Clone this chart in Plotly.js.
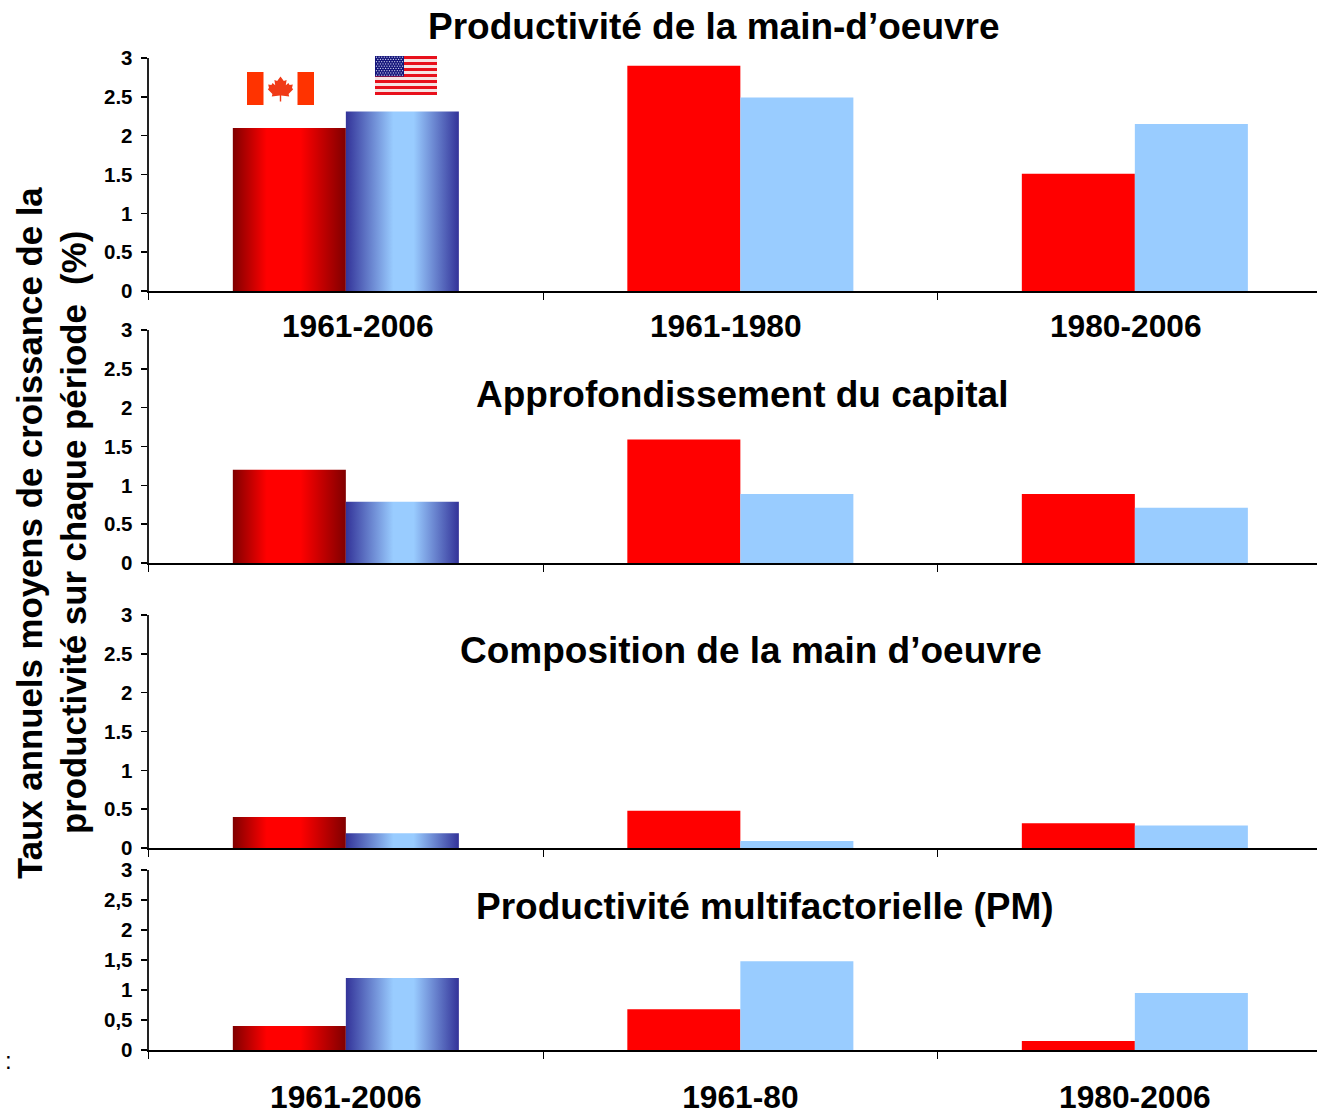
<!DOCTYPE html>
<html>
<head>
<meta charset="utf-8">
<script src="https://cdn.plot.ly/plotly-3.0.1.min.js"></script>
<style>html,body{margin:0;padding:0;background:#fff}#chart{width:1317px;height:1115px}</style>
</head>
<body>
<div id="chart"></div>
<script>
// ---- data ----
const periods = ["1961-2006", "1961-1980", "1980-2006"];
const periodsBottom = ["1961-2006", "1961-80", "1980-2006"];
const canadaLabour = [2.10, 2.90, 1.51];
const usLabour = [2.31, 2.49, 2.15];
const canadaCapital = [1.20, 1.59, 0.89];
const usCapital = [0.79, 0.89, 0.71];
const canadaComposition = [0.40, 0.48, 0.32];
const usComposition = [0.19, 0.09, 0.29];
const canadaMfp = [0.40, 0.68, 0.15];
const usMfp = [1.20, 1.48, 0.95];
const yTickVals = [0, 0.5, 1, 1.5, 2, 2.5, 3];
const yTicksDot = ["0", "0.5", "1", "1.5", "2", "2.5", "3"];
const yTicksComma = ["0", "0,5", "1", "1,5", "2", "2,5", "3"];
const titles = ["Productivité de la main-d’oeuvre", "Approfondissement du capital",
                "Composition de la main d’oeuvre", "Productivité multifactorielle (PM)"];
const yTitleLines = ["Taux annuels moyens de croissance de la", "productivité sur chaque période  (%)"];

// ---- layout helpers ----
const W = 1317, H = 1115, LEFT = 148.6, CAT = 394.5;
const FONT = '"Liberation Sans", Arial, sans-serif';
const px = v => v / W, py = v => 1 - v / H;
const panels = [
  {top: 58, bottom: 291, can: canadaLabour, us: usLabour, ticks: yTicksDot, cats: periods},
  {top: 330, bottom: 563, can: canadaCapital, us: usCapital, ticks: yTicksDot, cats: periods},
  {top: 615, bottom: 848, can: canadaComposition, us: usComposition, ticks: yTicksDot, cats: periods},
  {top: 870, bottom: 1050, can: canadaMfp, us: usMfp, ticks: yTicksComma, cats: periodsBottom}
];
const data = [];
const layout = {
  width: W, height: H, autosize: false,
  margin: {l: 0, r: 0, t: 0, b: 0},
  paper_bgcolor: "#fff", plot_bgcolor: "rgba(0,0,0,0)",
  barmode: "group", bargap: 0.427, bargroupgap: 0,
  showlegend: false, annotations: [], images: []
};
panels.forEach((p, i) => {
  const n = i === 0 ? "" : String(i + 1);
  data.push({type: "bar", name: "Canada", x: p.cats, y: p.can, xaxis: "x" + n, yaxis: "y" + n,
             marker: {color: "#ff0000", line: {width: 0}}});
  data.push({type: "bar", name: "États-Unis", x: p.cats, y: p.us, xaxis: "x" + n, yaxis: "y" + n,
             marker: {color: "#99ccff", line: {width: 0}}});
  layout["xaxis" + n] = {
    domain: [px(LEFT), 1], anchor: "y" + n, type: "category",
    range: [-0.5, -0.5 + (W - LEFT) / CAT], fixedrange: true,
    showgrid: false, zeroline: false, showline: true, linecolor: "#000", linewidth: 2,
    ticks: "outside", tickson: "boundaries", ticklen: 7, tickwidth: 1, tickcolor: "#000",
    showticklabels: i === 3, ticklabelstandoff: 18, ticklabelshift: 1.5,
    tickfont: {family: FONT, size: 31.7, color: "#000", weight: 700}
  };
  layout["yaxis" + n] = {
    domain: [py(p.bottom), py(p.top)], anchor: "x" + n, range: [0, 3], fixedrange: true,
    tickmode: "array", tickvals: yTickVals, ticktext: p.ticks,
    showgrid: false, zeroline: false, showline: true, linecolor: "#222", linewidth: 2,
    ticks: "outside", ticklen: 6, tickwidth: 1.5, tickcolor: "#000", ticklabelstandoff: 4,
    tickfont: {family: FONT, size: 20.5, color: "#000", weight: 700}
  };
});

function note(text, x, y, size, angle, weight) {
  layout.annotations.push({
    text, xref: "paper", yref: "paper", x: px(x), y: py(y), xanchor: "center", yanchor: "middle",
    showarrow: false, textangle: angle || 0,
    font: {family: FONT, size, color: "#000", weight: weight === undefined ? 700 : weight}
  });
}
note(titles[0], 714, 26, 37);
note(titles[1], 742, 394, 37);
note(titles[2], 751, 650, 37);
note(titles[3], 765, 906, 37);
note(periods[0], 358, 326, 31.7);
note(periods[1], 726, 326, 31.7);
note(periods[2], 1126, 326, 31.7);
note(yTitleLines[0], 29, 533, 34.8, -90);
note(yTitleLines[1], 73, 533, 34.8, -90);
note(":", 8, 1060, 24, 0, 400);

// ---- flags (decoration) ----
const canadaSvg = `<svg xmlns="http://www.w3.org/2000/svg" width="67" height="33" viewBox="0 0 67 33" preserveAspectRatio="none">
<rect width="67" height="33" fill="#ff3300"/><rect x="16.5" width="34" height="33" fill="#fff"/>
<path fill="#f03a17" d="M33.5 4.5 L36.8 9 L39.6 8 L38.8 13.2 L41.4 11 L42.6 13 L45.8 12.6 L45 16 L46.2 17.2 L41.6 22 L42.2 24.4 L34.2 23.4 L34.2 29.5 L32.8 29.5 L32.8 23.4 L24.8 24.4 L25.4 22 L20.8 17.2 L22 16 L21.2 12.6 L24.4 13 L25.6 11 L28.2 13.2 L27.4 8 L30.2 9 Z"/></svg>`;
let stripes = "";
for (let s = 0; s < 13; s++) stripes += `<rect y="${s * 3}" width="62" height="3" fill="${s % 2 ? '#f6e3e3' : '#e8101c'}"/>`;
let stars = "";
for (let r = 0; r < 9; r++) for (let c = 0; c < (r % 2 ? 10 : 11); c++)
  stars += `<circle cx="${1.5 + c * 2.6 + (r % 2 ? 1.3 : 0)}" cy="${1.2 + r * 2.25}" r="0.65" fill="#cfd3f0"/>`;
const usSvg = `<svg xmlns="http://www.w3.org/2000/svg" width="62" height="39" viewBox="0 0 62 39" preserveAspectRatio="none">
${stripes}<rect width="29" height="20.5" fill="#14147a"/>${stars}</svg>`;
const uri = s => "data:image/svg+xml;charset=utf-8," + encodeURIComponent(s);
function flag(src, x0, y0, w, h) {
  layout.images.push({source: uri(src), xref: "paper", yref: "paper", x: px(x0), y: py(y0),
    sizex: w / W, sizey: h / H, xanchor: "left", yanchor: "top", sizing: "stretch", layer: "above"});
}
flag(canadaSvg, 247, 72, 67, 33);
flag(usSvg, 375, 56, 62, 39);

// ---- render, then shade the first group of bars with the horizontal gradients ----
Plotly.newPlot("chart", data, layout, {staticPlot: true, displayModeBar: false}).then(gd => {
  const svg = gd.querySelector(".main-svg");
  const NS = "http://www.w3.org/2000/svg";
  const defs = svg.querySelector("defs") || svg.insertBefore(document.createElementNS(NS, "defs"), svg.firstChild);
  const grad = (id, stops) => {
    const g = document.createElementNS(NS, "linearGradient");
    g.setAttribute("id", id);
    g.setAttribute("x1", "0"); g.setAttribute("x2", "1"); g.setAttribute("y1", "0"); g.setAttribute("y2", "0");
    stops.forEach(([o, c]) => {
      const st = document.createElementNS(NS, "stop");
      st.setAttribute("offset", o); st.setAttribute("stop-color", c);
      g.appendChild(st);
    });
    defs.appendChild(g);
  };
  grad("gradCanada", [[0, "#800000"], [0.3, "#ff0000"], [0.6, "#ff0000"], [1, "#800000"]]);
  grad("gradUS", [[0, "#333399"], [0.42, "#99ccff"], [0.6, "#99ccff"], [1, "#333399"]]);
  gd.querySelectorAll(".barlayer .trace").forEach((tr, idx) => {
    const bar = tr.querySelector(".point path");
    if (bar) bar.style.fill = idx % 2 ? "url(#gradUS)" : "url(#gradCanada)";
  });
});
</script>
</body>
</html>
